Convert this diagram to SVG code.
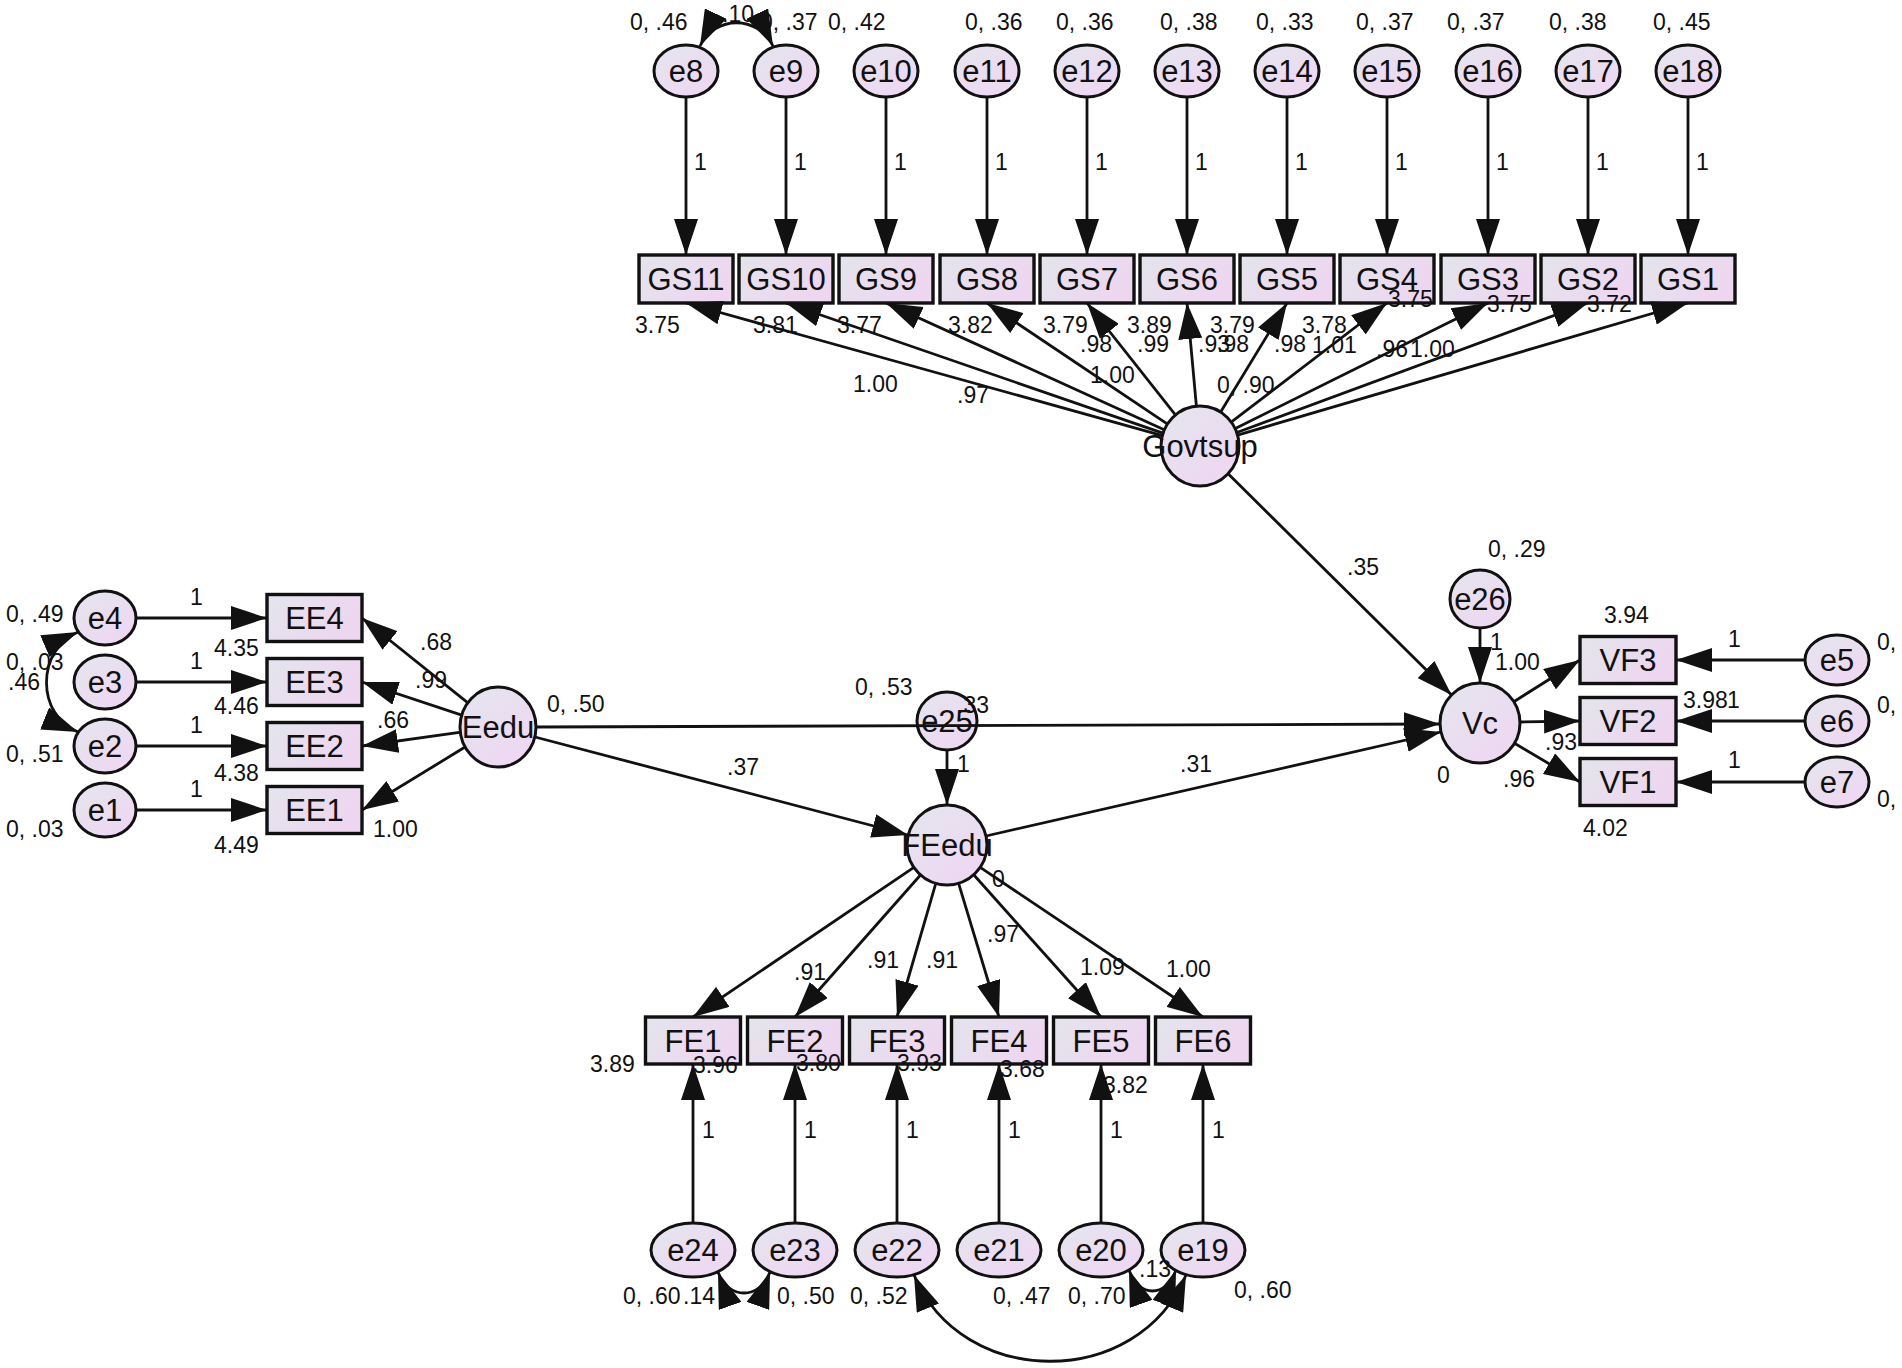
<svg xmlns="http://www.w3.org/2000/svg" width="1902" height="1368" viewBox="0 0 1902 1368">
<defs>
<linearGradient id="gE" x1="0" y1="0" x2="0.8" y2="1">
<stop offset="0" stop-color="#e4e6ee"/><stop offset="1" stop-color="#efd6f2"/>
</linearGradient>
<linearGradient id="gB" x1="0" y1="0" x2="1" y2="0.4">
<stop offset="0" stop-color="#e3e5ec"/><stop offset="1" stop-color="#eed6f0"/>
</linearGradient>
<marker id="ah" viewBox="0 0 36 24" refX="36" refY="12" markerWidth="36" markerHeight="24" markerUnits="userSpaceOnUse" orient="auto"><path d="M0,0 L36,12 L0,24 z" fill="#111"/></marker>
<marker id="ah2" viewBox="0 0 36 24" refX="36" refY="12" markerWidth="36" markerHeight="24" markerUnits="userSpaceOnUse" orient="auto-start-reverse"><path d="M0,0 L36,12 L0,24 z" fill="#111"/></marker>
<style>
.n ellipse{fill:url(#gE);stroke:#111;stroke-width:3}
.b rect{fill:url(#gB);stroke:#111;stroke-width:3.4}
.nt{font-family:'Liberation Sans',Arial,sans-serif;font-size:31px;text-anchor:middle;fill:#111}
.lb text{font-family:'Liberation Sans',Arial,sans-serif;font-size:23px;fill:#111}
#connectors path{stroke:#111;stroke-width:2.8;fill:none}
#connectors .a{marker-end:url(#ah)}
#connectors .c{marker-start:url(#ah2);marker-end:url(#ah2)}
</style>
</defs>
<rect x="0" y="0" width="1902" height="1368" fill="#fff"/>

<!-- top error nodes -->
<g id="e8" class="n"><ellipse cx="686" cy="71" rx="32" ry="26"/><text class="nt" x="686" y="82">e8</text></g>
<g id="e9" class="n"><ellipse cx="786" cy="71" rx="32" ry="26"/><text class="nt" x="786" y="82">e9</text></g>
<g id="e10" class="n"><ellipse cx="886" cy="71" rx="32" ry="26"/><text class="nt" x="886" y="82">e10</text></g>
<g id="e11" class="n"><ellipse cx="987" cy="71" rx="32" ry="26"/><text class="nt" x="987" y="82">e11</text></g>
<g id="e12" class="n"><ellipse cx="1087" cy="71" rx="32" ry="26"/><text class="nt" x="1087" y="82">e12</text></g>
<g id="e13" class="n"><ellipse cx="1187" cy="71" rx="32" ry="26"/><text class="nt" x="1187" y="82">e13</text></g>
<g id="e14" class="n"><ellipse cx="1287" cy="71" rx="32" ry="26"/><text class="nt" x="1287" y="82">e14</text></g>
<g id="e15" class="n"><ellipse cx="1387" cy="71" rx="32" ry="26"/><text class="nt" x="1387" y="82">e15</text></g>
<g id="e16" class="n"><ellipse cx="1488" cy="71" rx="32" ry="26"/><text class="nt" x="1488" y="82">e16</text></g>
<g id="e17" class="n"><ellipse cx="1588" cy="71" rx="32" ry="26"/><text class="nt" x="1588" y="82">e17</text></g>
<g id="e18" class="n"><ellipse cx="1688" cy="71" rx="32" ry="26"/><text class="nt" x="1688" y="82">e18</text></g>

<!-- GS boxes -->
<g id="GS11" class="b"><rect x="639" y="255" width="94" height="48"/><text class="nt" x="686" y="290">GS11</text></g>
<g id="GS10" class="b"><rect x="739" y="255" width="94" height="48"/><text class="nt" x="786" y="290">GS10</text></g>
<g id="GS9" class="b"><rect x="839" y="255" width="94" height="48"/><text class="nt" x="886" y="290">GS9</text></g>
<g id="GS8" class="b"><rect x="940" y="255" width="94" height="48"/><text class="nt" x="987" y="290">GS8</text></g>
<g id="GS7" class="b"><rect x="1040" y="255" width="94" height="48"/><text class="nt" x="1087" y="290">GS7</text></g>
<g id="GS6" class="b"><rect x="1140" y="255" width="94" height="48"/><text class="nt" x="1187" y="290">GS6</text></g>
<g id="GS5" class="b"><rect x="1240" y="255" width="94" height="48"/><text class="nt" x="1287" y="290">GS5</text></g>
<g id="GS4" class="b"><rect x="1340" y="255" width="94" height="48"/><text class="nt" x="1387" y="290">GS4</text></g>
<g id="GS3" class="b"><rect x="1441" y="255" width="94" height="48"/><text class="nt" x="1488" y="290">GS3</text></g>
<g id="GS2" class="b"><rect x="1541" y="255" width="94" height="48"/><text class="nt" x="1588" y="290">GS2</text></g>
<g id="GS1" class="b"><rect x="1641" y="255" width="94" height="48"/><text class="nt" x="1688" y="290">GS1</text></g>

<!-- latent -->
<g id="Govtsup" class="n"><ellipse cx="1200" cy="446" rx="39" ry="40"/><text class="nt" x="1200" y="456.5">Govtsup</text></g>
<g id="Eedu" class="n"><ellipse cx="498" cy="727" rx="38" ry="40"/><text class="nt" x="498" y="738">Eedu</text></g>
<g id="FEedu" class="n"><ellipse cx="947" cy="845" rx="40" ry="40"/><text class="nt" x="947" y="856">FEedu</text></g>
<g id="Vc" class="n"><ellipse cx="1480" cy="723" rx="40" ry="40"/><text class="nt" x="1480" y="734">Vc</text></g>
<g id="e25" class="n"><ellipse cx="947" cy="721" rx="30" ry="29"/><text class="nt" x="947" y="732">e25</text></g>
<g id="e26" class="n"><ellipse cx="1480" cy="599" rx="30" ry="29"/><text class="nt" x="1480" y="610">e26</text></g>

<!-- left -->
<g id="e4" class="n"><ellipse cx="105" cy="618" rx="31" ry="27"/><text class="nt" x="105" y="629">e4</text></g>
<g id="e3" class="n"><ellipse cx="105" cy="682" rx="31" ry="27"/><text class="nt" x="105" y="693">e3</text></g>
<g id="e2" class="n"><ellipse cx="105" cy="746" rx="31" ry="27"/><text class="nt" x="105" y="757">e2</text></g>
<g id="e1" class="n"><ellipse cx="105" cy="810" rx="31" ry="27"/><text class="nt" x="105" y="821">e1</text></g>
<g id="EE4" class="b"><rect x="267" y="594.5" width="95" height="47"/><text class="nt" x="314.5" y="629">EE4</text></g>
<g id="EE3" class="b"><rect x="267" y="658.5" width="95" height="47"/><text class="nt" x="314.5" y="693">EE3</text></g>
<g id="EE2" class="b"><rect x="267" y="722.5" width="95" height="47"/><text class="nt" x="314.5" y="757">EE2</text></g>
<g id="EE1" class="b"><rect x="267" y="786.5" width="95" height="47"/><text class="nt" x="314.5" y="821">EE1</text></g>

<!-- right -->
<g id="VF3" class="b"><rect x="1580" y="636.5" width="96" height="47"/><text class="nt" x="1628" y="671">VF3</text></g>
<g id="VF2" class="b"><rect x="1580" y="697.5" width="96" height="47"/><text class="nt" x="1628" y="732">VF2</text></g>
<g id="VF1" class="b"><rect x="1580" y="758.5" width="96" height="47"/><text class="nt" x="1628" y="793">VF1</text></g>
<g id="e5" class="n"><ellipse cx="1837" cy="660" rx="32" ry="25"/><text class="nt" x="1837" y="671">e5</text></g>
<g id="e6" class="n"><ellipse cx="1837" cy="721" rx="32" ry="25"/><text class="nt" x="1837" y="732">e6</text></g>
<g id="e7" class="n"><ellipse cx="1837" cy="782" rx="32" ry="25"/><text class="nt" x="1837" y="793">e7</text></g>

<!-- bottom -->
<g id="FE1" class="b"><rect x="645.5" y="1017" width="95" height="47"/><text class="nt" x="693" y="1051.5">FE1</text></g>
<g id="FE2" class="b"><rect x="747.5" y="1017" width="95" height="47"/><text class="nt" x="795" y="1051.5">FE2</text></g>
<g id="FE3" class="b"><rect x="849.5" y="1017" width="95" height="47"/><text class="nt" x="897" y="1051.5">FE3</text></g>
<g id="FE4" class="b"><rect x="951.5" y="1017" width="95" height="47"/><text class="nt" x="999" y="1051.5">FE4</text></g>
<g id="FE5" class="b"><rect x="1053.5" y="1017" width="95" height="47"/><text class="nt" x="1101" y="1051.5">FE5</text></g>
<g id="FE6" class="b"><rect x="1155.5" y="1017" width="95" height="47"/><text class="nt" x="1203" y="1051.5">FE6</text></g>
<g id="e24" class="n"><ellipse cx="693" cy="1250" rx="42" ry="27"/><text class="nt" x="693" y="1261">e24</text></g>
<g id="e23" class="n"><ellipse cx="795" cy="1250" rx="42" ry="27"/><text class="nt" x="795" y="1261">e23</text></g>
<g id="e22" class="n"><ellipse cx="897" cy="1250" rx="42" ry="27"/><text class="nt" x="897" y="1261">e22</text></g>
<g id="e21" class="n"><ellipse cx="999" cy="1250" rx="42" ry="27"/><text class="nt" x="999" y="1261">e21</text></g>
<g id="e20" class="n"><ellipse cx="1101" cy="1250" rx="42" ry="27"/><text class="nt" x="1101" y="1261">e20</text></g>
<g id="e19" class="n"><ellipse cx="1203" cy="1250" rx="42" ry="27"/><text class="nt" x="1203" y="1261">e19</text></g>

<!-- labels -->
<g id="labels" class="lb">
<text x="630" y="30">0, .46</text><text x="760" y="30">0, .37</text><text x="828" y="30">0, .42</text>
<text x="965" y="30">0, .36</text><text x="1056" y="30">0, .36</text><text x="1160" y="30">0, .38</text>
<text x="1256" y="30">0, .33</text><text x="1356" y="30">0, .37</text><text x="1447" y="30">0, .37</text>
<text x="1549" y="30">0, .38</text><text x="1653" y="30">0, .45</text>
<text x="722" y="22">.10</text>
<text x="694" y="170">1</text><text x="794" y="170">1</text><text x="894" y="170">1</text><text x="995" y="170">1</text>
<text x="1095" y="170">1</text><text x="1195" y="170">1</text><text x="1295" y="170">1</text><text x="1395" y="170">1</text>
<text x="1496" y="170">1</text><text x="1596" y="170">1</text><text x="1696" y="170">1</text>
<text x="635" y="333">3.75</text><text x="753" y="333">3.81</text><text x="837" y="333">3.77</text>
<text x="948" y="333">3.82</text><text x="1043" y="333">3.79</text><text x="1127" y="333">3.89</text>
<text x="1210" y="333">3.79</text><text x="1302" y="333">3.78</text><text x="1388" y="307">3.75</text>
<text x="1487" y="312">3.75</text><text x="1587" y="312">3.72</text>
<text x="853" y="392">1.00</text><text x="957" y="403">.97</text><text x="1090" y="383">1.00</text>
<text x="1080" y="352">.98</text><text x="1137" y="352">.99</text><text x="1198" y="352">.93</text>
<text x="1217" y="352">.98</text><text x="1274" y="352">.98</text><text x="1312" y="353">1.01</text>
<text x="1376" y="357">.96</text><text x="1410" y="357">1.00</text>
<text x="1217" y="393">0, .90</text>
<text x="1347" y="575">.35</text><text x="1488" y="557">0, .29</text>
<text x="1490" y="650">1</text><text x="1495" y="670">1.00</text>
<text x="1604" y="623">3.94</text><text x="1728" y="647">1</text>
<text x="1683" y="708">3.98</text><text x="1727" y="708">1</text>
<text x="1545" y="750">.93</text><text x="1728" y="768">1</text>
<text x="1437" y="783">0</text><text x="1503" y="787">.96</text><text x="1583" y="836">4.02</text>
<text x="1877" y="650">0,</text><text x="1877" y="713">0,</text><text x="1877" y="807">0,</text>
<text x="547" y="712">0, .50</text><text x="855" y="695">0, .53</text><text x="957" y="713">.33</text>
<text x="957" y="772">1</text><text x="727" y="775">.37</text><text x="1180" y="772">.31</text>
<text x="992" y="887">0</text>
<text x="6" y="622">0, .49</text><text x="6" y="670">0, .03</text><text x="8" y="690">.46</text>
<text x="6" y="762">0, .51</text><text x="6" y="837">0, .03</text>
<text x="190" y="605">1</text><text x="190" y="669">1</text><text x="190" y="733">1</text><text x="190" y="797">1</text>
<text x="214" y="656">4.35</text><text x="214" y="714">4.46</text><text x="214" y="781">4.38</text><text x="214" y="853">4.49</text>
<text x="420" y="650">.68</text><text x="415" y="688">.99</text><text x="377" y="728">.66</text><text x="373" y="837">1.00</text>
<text x="794" y="980">.91</text><text x="867" y="968">.91</text><text x="926" y="968">.91</text>
<text x="987" y="942">.97</text><text x="1080" y="975">1.09</text><text x="1166" y="977">1.00</text>
<text x="590" y="1072">3.89</text><text x="693" y="1073">3.96</text><text x="796" y="1071">3.80</text>
<text x="897" y="1071">3.93</text><text x="1000" y="1077">3.68</text><text x="1103" y="1093">3.82</text>
<text x="702" y="1138">1</text><text x="804" y="1138">1</text><text x="906" y="1138">1</text>
<text x="1008" y="1138">1</text><text x="1110" y="1138">1</text><text x="1212" y="1138">1</text>
<text x="623" y="1304">0, .60</text><text x="683" y="1304">.14</text><text x="777" y="1304">0, .50</text>
<text x="850" y="1304">0, .52</text><text x="993" y="1304">0, .47</text><text x="1068" y="1304">0, .70</text>
<text x="1234" y="1298">0, .60</text><text x="1139" y="1277">.13</text>
</g>

<g id="connectors">
<path class="a" d="M686,97 L686,255"/><path class="a" d="M786,97 L786,255"/><path class="a" d="M886,97 L886,255"/>
<path class="a" d="M987,97 L987,255"/><path class="a" d="M1087,97 L1087,255"/><path class="a" d="M1187,97 L1187,255"/>
<path class="a" d="M1287,97 L1287,255"/><path class="a" d="M1387,97 L1387,255"/><path class="a" d="M1488,97 L1488,255"/>
<path class="a" d="M1588,97 L1588,255"/><path class="a" d="M1688,97 L1688,255"/>
<path class="a" d="M1161.5,435.3 L686,303"/>
<path class="a" d="M1162.2,432.9 L786,303"/>
<path class="a" d="M1163.6,429.4 L886,303"/>
<path class="a" d="M1166.8,423.7 L987,303"/>
<path class="a" d="M1175.2,414.6 L1087,303"/>
<path class="a" d="M1196.4,406.2 L1187,303"/>
<path class="a" d="M1220.8,411.8 L1287,303"/>
<path class="a" d="M1231.8,421.7 L1387,303"/>
<path class="a" d="M1235.8,428.2 L1488,303"/>
<path class="a" d="M1237.5,432.2 L1588,303"/>
<path class="a" d="M1238.4,434.8 L1688,303"/>
<path class="a" d="M1228.4,474.1 L1451.6,694.9"/>
<path class="a" d="M1480,628 L1480,683"/>
<path class="a" d="M536,727 L1440,724"/>
<path class="a" d="M986,836 L1441,732"/>
<path class="a" d="M535,737 L908,835"/>
<path class="a" d="M947,750 L947,805"/>
<path class="a" d="M467.6,702.6 L362,618"/>
<path class="a" d="M461,714.8 L362,682"/>
<path class="a" d="M459.4,732.4 L362,746"/>
<path class="a" d="M464.7,747.3 L362,810"/>
<path class="a" d="M136,618 L267,618"/><path class="a" d="M136,682 L267,682"/>
<path class="a" d="M136,746 L267,746"/><path class="a" d="M136,810 L267,810"/>
<path class="a" d="M913.9,867.4 L693,1017"/>
<path class="a" d="M920.5,875 L795,1017"/>
<path class="a" d="M935.8,883.4 L897,1017"/>
<path class="a" d="M958.6,883.3 L999,1017"/>
<path class="a" d="M973.7,874.8 L1101,1017"/>
<path class="a" d="M980.2,867.3 L1203,1017"/>
<path class="a" d="M693,1223 L693,1064"/><path class="a" d="M795,1223 L795,1064"/>
<path class="a" d="M897,1223 L897,1064"/><path class="a" d="M999,1223 L999,1064"/>
<path class="a" d="M1101,1223 L1101,1064"/><path class="a" d="M1203,1223 L1203,1064"/>
<path class="a" d="M1513.8,701.7 L1580,660"/>
<path class="a" d="M1520,722 L1580,721"/>
<path class="a" d="M1514.5,743.3 L1580,782"/>
<path class="a" d="M1805,660 L1676,660"/><path class="a" d="M1805,721 L1676,721"/><path class="a" d="M1805,782 L1676,782"/>
<path class="c" d="M700,46 C715,15 758,15 773,46"/>
<path class="c" d="M78,632 C36,650 36,715 78,732"/>
<path class="c" d="M718,1272 C728,1300 760,1300 770,1272"/>
<path class="c" d="M914,1275 C962,1390 1138,1390 1186,1275"/>
<path class="c" d="M1129,1270 C1139,1298 1166,1298 1176,1270"/>
</g>
</svg>
